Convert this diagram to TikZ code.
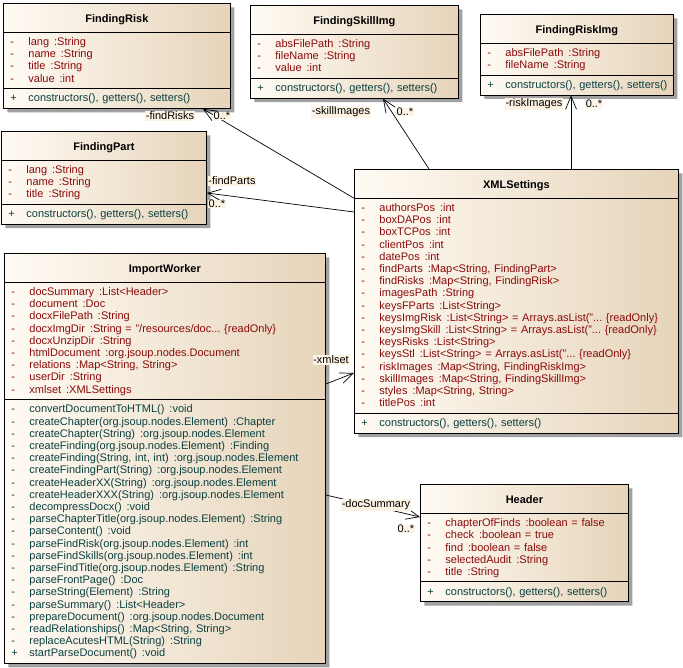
\documentclass[tikz,border=0pt]{standalone}
\usepackage{fontspec}
\setmainfont{Liberation Sans}
\usetikzlibrary{shapes.multipart,shadows,arrows.meta}
\frenchspacing

\definecolor{boxleft}{HTML}{FFFBF4}
\definecolor{boxright}{HTML}{E6D4BA}
\definecolor{attrcol}{HTML}{8B0A0A}
\definecolor{opcol}{HTML}{0A4040}
\definecolor{lblbg}{HTML}{FCF3E4}

\newcommand{\umlstrut}{\rule[-2.5pt]{0pt}{12pt}}
\newcommand{\umltitle}[1]{\hspace*{\fill}\textbf{#1}\hspace*{\fill}\rule[-5.5pt]{0pt}{21pt}}
\newcommand{\umlattr}[3][-]{\mbox{\textcolor{attrcol}{\makebox[18pt][l]{#1}#2\hspace{5pt}:#3}\umlstrut}}
\newcommand{\umlop}[3][-]{\mbox{\textcolor{opcol}{\makebox[18pt][l]{#1}#2\hspace{5pt}:#3}\umlstrut}}
\newcommand{\umlops}{\mbox{\textcolor{opcol}{\makebox[18pt][l]{+}constructors(), getters(), setters()}\umlstrut}}

\begin{document}
\begin{tikzpicture}[x=1pt, y=-1pt,
    umlclass/.style={rectangle split, rectangle split parts=3, draw, line width=0.8pt,
        left color=boxleft, right color=boxright, align=left,
        inner xsep=7pt, inner ysep=3.5pt, anchor=north west,
        font=\fontsize{11}{12.2}\selectfont,
        drop shadow={shadow xshift=4pt, shadow yshift=-4pt, fill=black!37, opacity=1}},
    assoc/.style={line width=0.7pt, -{Straight Barb[length=13pt,width=11pt]}},
    rolelbl/.style={fill=lblbg, inner sep=0.5pt, font=\fontsize{11}{12}\selectfont}]

    \fill[white] (0,0) rectangle (683,668);
    \useasboundingbox (0,0) rectangle (683,668);

    % classes
    \node[umlclass, text width=213pt] (risk) at (3,3) {\umltitle{FindingRisk}
        \nodepart{second}
        \umlattr{lang}{String}\\
        \umlattr{name}{String}\\
        \umlattr{title}{String}\\
        \umlattr{value}{int}
        \nodepart{third}
        \umlops};

    \node[umlclass, text width=194pt] (skillimg) at (250,5) {\umltitle{FindingSkillImg}
        \nodepart{second}
        \umlattr{absFilePath}{String}\\
        \umlattr{fileName}{String}\\
        \umlattr{value}{int}
        \nodepart{third}
        \umlops};

    \node[umlclass, text width=179pt] (riskimg) at (480,14) {\umltitle{FindingRiskImg}
        \nodepart{second}
        \umlattr{absFilePath}{String}\\
        \umlattr{fileName}{String}
        \nodepart{third}
        \umlops};

    \node[umlclass, text width=191pt] (part) at (1,131) {\umltitle{FindingPart}
        \nodepart{second}
        \umlattr{lang}{String}\\
        \umlattr{name}{String}\\
        \umlattr{title}{String}
        \nodepart{third}
        \umlops};

    \node[umlclass, text width=310pt] (xml) at (354,169) {\umltitle{XMLSettings}
        \nodepart{second}
        \umlattr{authorsPos}{int}\\
        \umlattr{boxDAPos}{int}\\
        \umlattr{boxTCPos}{int}\\
        \umlattr{clientPos}{int}\\
        \umlattr{datePos}{int}\\
        \umlattr{findParts}{Map<String, FindingPart>}\\
        \umlattr{findRisks}{Map<String, FindingRisk>}\\
        \umlattr{imagesPath}{String}\\
        \umlattr{keysFParts}{List<String>}\\
        \umlattr{keysImgRisk}{List<String> = Arrays.asList("... \{readOnly\}}\\
        \umlattr{keysImgSkill}{List<String> = Arrays.asList("... \{readOnly\}}\\
        \umlattr{keysRisks}{List<String>}\\
        \umlattr{keysStl}{List<String> = Arrays.asList("... \{readOnly\}}\\
        \umlattr{riskImages}{Map<String, FindingRiskImg>}\\
        \umlattr{skillImages}{Map<String, FindingSkillImg>}\\
        \umlattr{styles}{Map<String, String>}\\
        \umlattr{titlePos}{int}
        \nodepart{third}
        \umlops};

    \node[umlclass, text width=307pt] (worker) at (4,253) {\umltitle{ImportWorker}
        \nodepart{second}
        \umlattr{docSummary}{List<Header>}\\
        \umlattr{document}{Doc}\\
        \umlattr{docxFilePath}{String}\\
        \umlattr{docxImgDir}{String = "/resources/doc... \{readOnly\}}\\
        \umlattr{docxUnzipDir}{String}\\
        \umlattr{htmlDocument}{org.jsoup.nodes.Document}\\
        \umlattr{relations}{Map<String, String>}\\
        \umlattr{userDir}{String}\\
        \umlattr{xmlset}{XMLSettings}
        \nodepart{third}
        \umlop{convertDocumentToHTML()}{void}\\
        \umlop{createChapter(org.jsoup.nodes.Element)}{Chapter}\\
        \umlop{createChapter(String)}{org.jsoup.nodes.Element}\\
        \umlop{createFinding(org.jsoup.nodes.Element)}{Finding}\\
        \umlop{createFinding(String, int, int)}{org.jsoup.nodes.Element}\\
        \umlop{createFindingPart(String)}{org.jsoup.nodes.Element}\\
        \umlop{createHeaderXX(String)}{org.jsoup.nodes.Element}\\
        \umlop{createHeaderXXX(String)}{org.jsoup.nodes.Element}\\
        \umlop{decompressDocx()}{void}\\
        \umlop{parseChapterTitle(org.jsoup.nodes.Element)}{String}\\
        \umlop{parseContent()}{void}\\
        \umlop{parseFindRisk(org.jsoup.nodes.Element)}{int}\\
        \umlop{parseFindSkills(org.jsoup.nodes.Element)}{int}\\
        \umlop{parseFindTitle(org.jsoup.nodes.Element)}{String}\\
        \umlop{parseFrontPage()}{Doc}\\
        \umlop{parseString(Element)}{String}\\
        \umlop{parseSummary()}{List<Header>}\\
        \umlop{prepareDocument()}{org.jsoup.nodes.Document}\\
        \umlop{readRelationships()}{Map<String, String>}\\
        \umlop{replaceAcutesHTML(String)}{String}\\
        \umlop[+]{startParseDocument()}{void}};

    \node[umlclass, text width=194pt] (header) at (420,484) {\umltitle{Header}
        \nodepart{second}
        \umlattr{chapterOfFinds}{boolean = false}\\
        \umlattr{check}{boolean = true}\\
        \umlattr{find}{boolean = false}\\
        \umlattr{selectedAudit}{String}\\
        \umlattr{title}{String}
        \nodepart{third}
        \umlops};

    % associations
    \coordinate (rimgend) at ([xshift=91pt]riskimg.south west);
    \draw[assoc] (xml.text split west) -- ([xshift=-28pt]risk.south east);
    \draw[assoc] ([yshift=-43pt]xml.north west) -- ([yshift=-62pt]part.north east);
    \draw[assoc] ([xshift=75pt]xml.north west) -- ([xshift=133pt]skillimg.south west);
    \draw[assoc] (rimgend |- xml.north) -- (rimgend);
    \draw[assoc] ([yshift=-131pt]worker.north east) -- ([yshift=-204pt]xml.north west);
    \draw[assoc] ([yshift=-242pt]worker.north east) -- ([yshift=-33pt]header.north west);

    % role names and multiplicities
    \node[rolelbl] (findrisks) at (170,116) {-findRisks};
    \node[rolelbl] (findrisksm) at (222,116) {0..*};
    \node[rolelbl] (findparts) at (232,181) {-findParts};
    \node[rolelbl] (findpartsm) at (217,204) {0..*};
    \node[rolelbl] (skillimages) at (341,112) {-skillImages};
    \node[rolelbl] (skillimagesm) at (405,112) {0..*};
    \node[rolelbl] (riskimages) at (534,104) {-riskImages};
    \node[rolelbl] (riskimagesm) at (594,104) {0..*};
    \node[rolelbl] (xmlset) at (331,360) {-xmlset};
    \node[rolelbl] (docsummary) at (376,505) {-docSummary};
    \node[rolelbl] (docsummarym) at (406,529) {0..*};
\end{tikzpicture}
\end{document}
